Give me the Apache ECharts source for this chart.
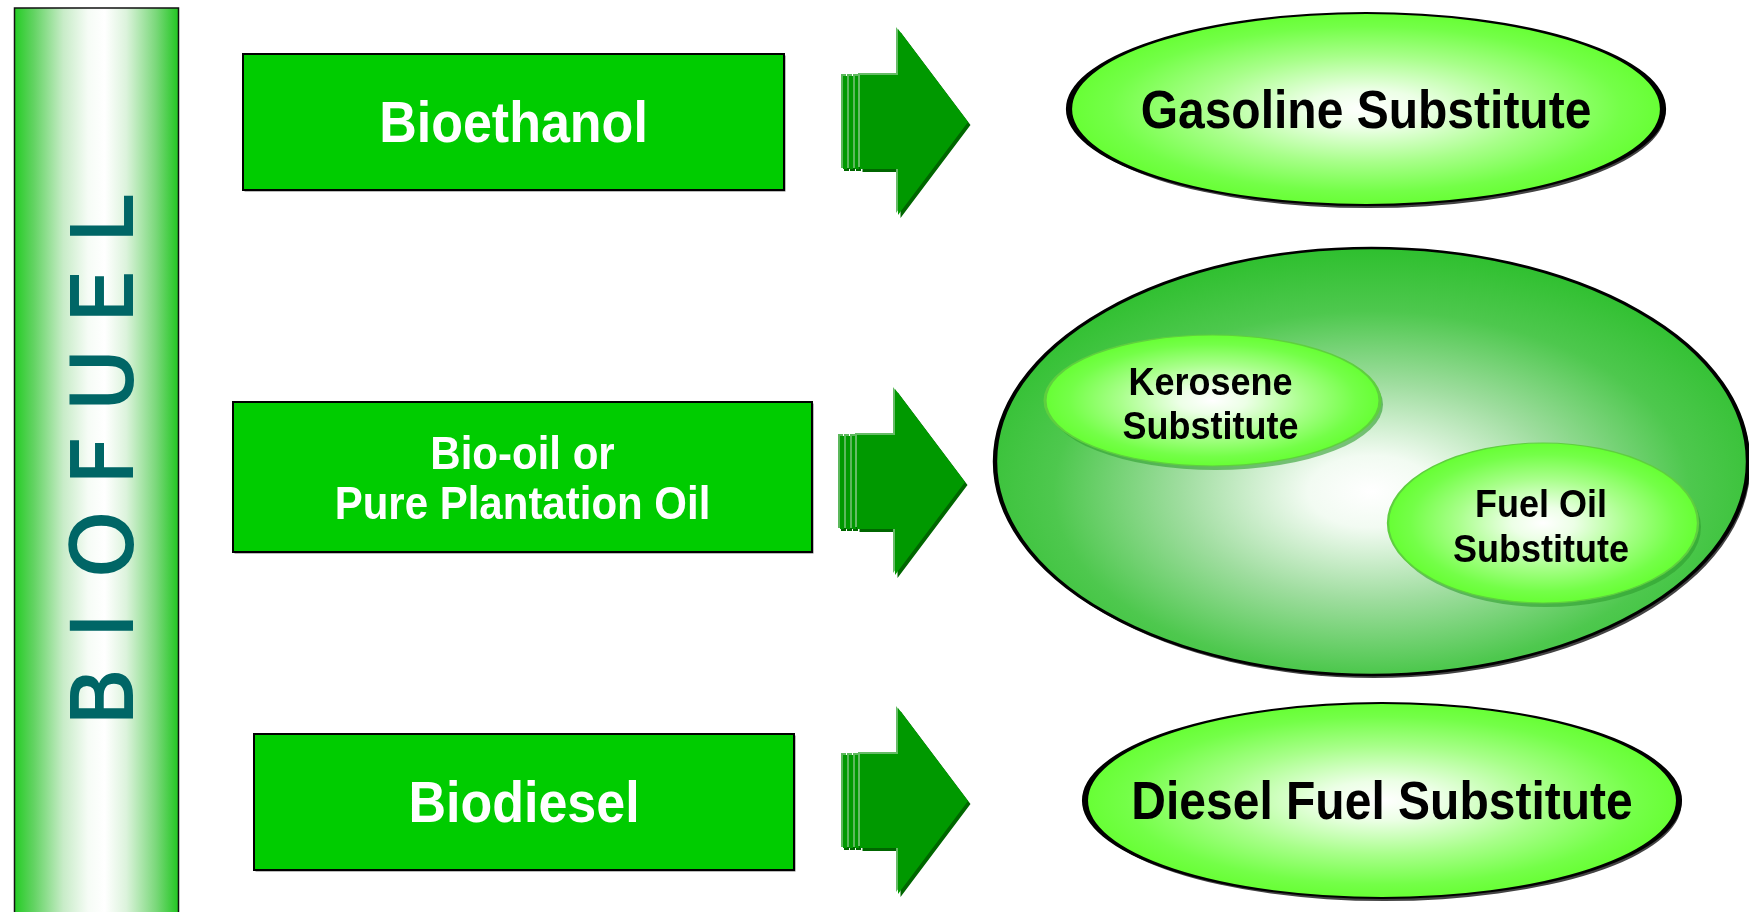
<!DOCTYPE html>
<html>
<head>
<meta charset="utf-8">
<title>Biofuel</title>
<script src="https://cdn.jsdelivr.net/npm/echarts@6/dist/echarts.min.js"></script>
<style>
    html, body { margin: 0; padding: 0; background: #fff; }
    #chart { width: 1749px; height: 912px; }
</style>
</head>
<body>
<div id="chart"></div>
<script>
// texts
const sideTitle = 'BIOFUEL';
const sources = ['Bioethanol', 'Bio-oil or\nPure Plantation Oil', 'Biodiesel'];
const products = ['Gasoline Substitute', '', 'Diesel Fuel Substitute'];
const subProducts = ['Kerosene\nSubstitute', 'Fuel Oil\nSubstitute'];

// layout in px
const boxRects = [[243, 54, 541, 136], [233, 402, 579, 150], [254, 734, 540, 136]];
const boxFont = [52, 42, 52];
const arrowPos = [[898, 122], [895, 482], [898, 801]];
const productOvals = [[1366, 109, 297, 96], [1371.5, 461.5, 376.5, 213.5], [1382, 800.5, 297, 97.5]];
const subOvals = [[1212.5, 400.5, 167.5, 65.5], [1543, 523, 155, 80]];
const letterY = [697, 625.5, 544.5, 460.5, 380, 296.5, 219.5];

const G = echarts.graphic;
const TALL = 1.1; // the original lettering is slightly stretched vertically
const els = [];
let z = 0;
function add(el) { el.z = z++; els.push(el); }

function oval(cx, cy, rx, ry, style) {
    return {
        type: 'circle',
        x: cx, y: cy,
        scaleX: rx / ry, scaleY: 1,
        shape: { cx: 0, cy: 0, r: ry },
        style: Object.assign({ strokeNoScale: true }, style)
    };
}

function label(text, x, y, size, color, lineGap) {
    return {
        type: 'text',
        x: x, y: y,
        scaleY: TALL,
        style: {
            text: text, fill: color,
            font: 'bold ' + size + 'px "Liberation Sans", Arial, sans-serif',
            lineHeight: lineGap ? lineGap / TALL : undefined,
            align: 'center', verticalAlign: 'middle'
        }
    };
}

// left bar
add({
    type: 'rect',
    shape: { x: 14.5, y: 8, width: 164, height: 920 },
    style: {
        fill: new G.LinearGradient(0, 0, 1, 0, [
            { offset: 0, color: '#22cc22' },
            { offset: 0.12, color: '#62d362' },
            { offset: 0.3, color: '#c8ecc8' },
            { offset: 0.45, color: '#f6fcf6' },
            { offset: 0.55, color: '#ffffff' },
            { offset: 0.68, color: '#dcf3dc' },
            { offset: 0.86, color: '#7ad87a' },
            { offset: 1, color: '#1ec61e' }
        ]),
        stroke: '#111', lineWidth: 1.5
    }
});
sideTitle.split('').forEach(function (ch, i) {
    add({
        type: 'text',
        x: 110.5, y: letterY[i],
        rotation: Math.PI / 2,
        style: {
            text: ch, fill: '#006666',
            stroke: '#006666', lineWidth: 2,
            font: 'normal 84px "DejaVu Sans"',
            align: 'center', verticalAlign: 'middle'
        }
    });
});

// source boxes
sources.forEach(function (name, i) {
    const r = boxRects[i];
    add({
        type: 'rect',
        shape: { x: r[0] + 1.5, y: r[1] + 1.5, width: r[2], height: r[3] },
        style: { fill: '#777' }
    });
    add({
        type: 'rect',
        shape: { x: r[0], y: r[1], width: r[2], height: r[3] },
        style: { fill: '#00cc00', stroke: '#000', lineWidth: 2 }
    });
    add(label(name, r[0] + r[2] / 2, r[1] + r[3] / 2 + 4, boxFont[i], '#ffffff', 50));
});

// arrows
function arrowPoints(bx, cy, dx, dy) {
    return [
        [bx - 38 + dx, cy - 47 + dy], [bx + dx, cy - 47 + dy], [bx + dx, cy - 93 + dy],
        [bx + 70 + dx, cy + dy], [bx + dx, cy + 93 + dy], [bx + dx, cy + 47 + dy],
        [bx - 38 + dx, cy + 47 + dy]
    ];
}
arrowPos.forEach(function (p) {
    const bx = p[0], cy = p[1];
    // stacked plates behind the shaft
    for (let k = 0; k < 3; k++) {
        const x0 = bx - 56 + k * 6;
        add({ type: 'rect', shape: { x: x0 + 2, y: cy - 46, width: 5, height: 95 }, style: { fill: '#006600' } });
        add({ type: 'rect', shape: { x: x0 - 1, y: cy - 48, width: 5, height: 94 }, style: { fill: '#5cb85c' } });
        add({ type: 'rect', shape: { x: x0 + 1, y: cy - 46, width: 4, height: 93 }, style: { fill: '#009900' } });
    }
    add({ type: 'polygon', shape: { points: arrowPoints(bx, cy, 2.5, 3) }, style: { fill: '#006600' } });
    add({ type: 'polygon', shape: { points: arrowPoints(bx, cy, -2, -2) }, style: { fill: '#66bb66' } });
    add({ type: 'polygon', shape: { points: arrowPoints(bx, cy, 0, 0) }, style: { fill: '#009900' } });
});

// product ovals
const limeFill = function () {
    return new G.RadialGradient(0.5, 0.5, 0.5, [
        { offset: 0, color: '#ffffff' },
        { offset: 0.2, color: '#ecffe6' },
        { offset: 0.55, color: '#a8ff8a' },
        { offset: 0.85, color: '#74ff48' },
        { offset: 1, color: '#66ff33' }
    ]);
};
productOvals.forEach(function (o, i) {
    const big = i === 1;
    add(oval(o[0] + 2.5, o[1] + 3, o[2], o[3], { fill: '#444' }));
    add(oval(o[0], o[1], o[2], o[3], {
        fill: big ? new G.RadialGradient(0.5, 0.57, 0.56, [
            { offset: 0, color: '#ffffff' },
            { offset: 0.15, color: '#f2fbf2' },
            { offset: 0.45, color: '#9fdd9f' },
            { offset: 0.75, color: '#4ec84e' },
            { offset: 1, color: '#30c030' }
        ]) : limeFill(),
        stroke: '#000', lineWidth: big ? 2.5 : 2
    }));
    if (products[i]) {
        add(label(products[i], o[0], o[1] + 4, 48, '#000'));
    }
});

// sub products inside the big oval
subProducts.forEach(function (name, i) {
    const o = subOvals[i];
    add(oval(o[0] + 3, o[1] + 4, o[2], o[3], { fill: '#2e9e2e', opacity: 0.6 }));
    add(oval(o[0], o[1], o[2], o[3], { fill: limeFill(), stroke: '#5fcf3f', lineWidth: 1.2 }));
    add(label(name, o[0] - 2, o[1] + 5.5, 36, '#000', 44.6));
});

const chart = echarts.init(document.getElementById('chart'));
chart.setOption({
    backgroundColor: '#ffffff',
    animation: false,
    graphic: { elements: els }
});
</script>
</body>
</html>
